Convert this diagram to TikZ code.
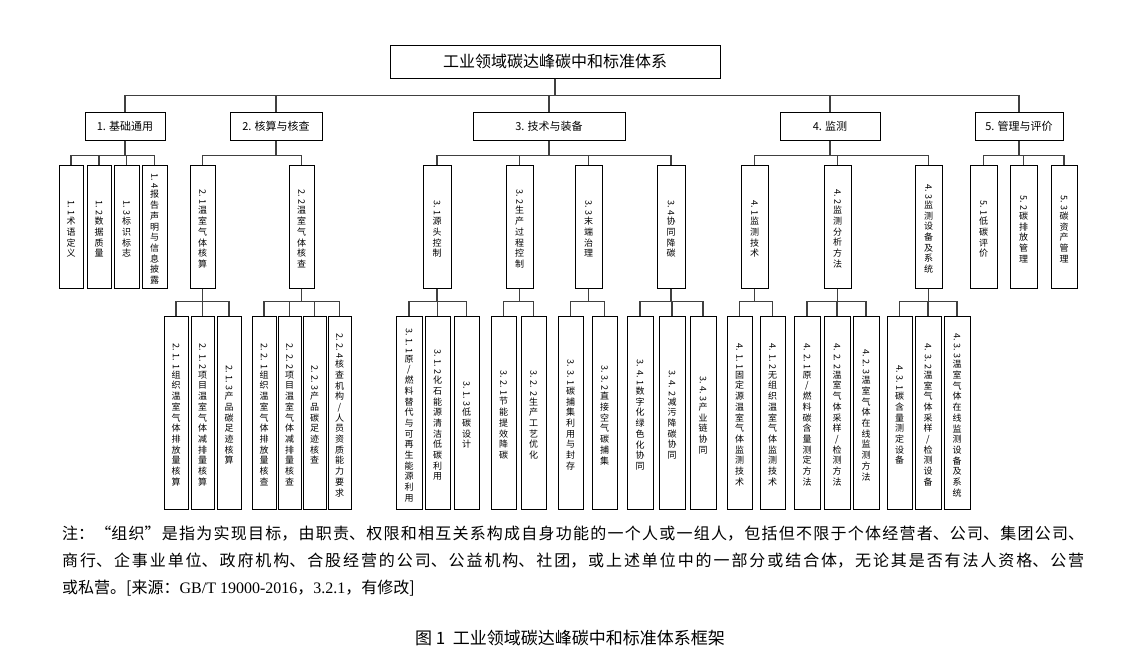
\documentclass[tikz,border=0pt]{standalone}
\usepackage{fontspec}
\usepackage{graphicx}
\setmainfont{Noto Sans CJK SC}
\newfontfamily\lat{Liberation Serif}
\XeTeXlinebreaklocale "zh"
\XeTeXlinebreakskip=0pt plus 1pt
\ExplSyntaxOn
\NewDocumentCommand\vtext{mm}{
  \seq_clear:N \l_tmpa_seq
  \tl_map_inline:nn {#2}{\seq_put_right:Nn \l_tmpa_seq {##1}}
  \fontsize{9}{10.6}\selectfont
  \begin{tabular}{@{}c@{}}\rotatebox{-90}{#1\,}\\ \seq_use:Nn \l_tmpa_seq {\\}\end{tabular}
}
\ExplSyntaxOff
\tikzset{
  hbox/.style={draw, line width=1pt, inner sep=0pt},
  vbox/.style={draw, line width=1pt, inner sep=0pt},
  conn/.style={draw=black!75, line width=1.3pt}
}
\newcommand\lbox[7]{\node[vbox, minimum width={(#3-#2)*1pt}, minimum height={(#5-#4)*1pt}] (#1) at ({(#2+#3)/2},{(#4+#5)/2}) {\vtext{#6}{#7}};}
\newcommand\tbox[6]{\node[hbox, minimum width={(#3-#2)*1pt}, minimum height={(#5-#4)*1pt}, font=\fontsize{11}{13}\selectfont] (#1) at ({(#2+#3)/2},{(#4+#5)/2}) {#6};}
\begin{document}
\begin{tikzpicture}[x=1pt,y=-1pt]
\useasboundingbox (0,0) rectangle (1138,664);
% title
\node[hbox, minimum width=330pt, minimum height=33pt, font=\fontsize{16}{18}\selectfont] (root) at (555,61.5) {工业领域碳达峰碳中和标准体系};
% level 1
\tbox{a}{85}{165}{112}{140}{1. 基础通用}
\tbox{b}{230}{322}{112}{140}{2. 核算与核查}
\tbox{c}{473}{625}{112}{140}{3. 技术与装备}
\tbox{d}{780}{880}{112}{140}{4. 监测}
\tbox{e}{975}{1063}{112}{140}{5. 管理与评价}
\foreach \n in {a,b,c,d,e}{\draw[conn] (root.south) -- ++(0,17) -| (\n.north);}
% level 2
\lbox{a1}{59}{83}{165}{288}{1. 1}{术语定义}
\lbox{a2}{87}{111}{165}{288}{1. 2}{数据质量}
\lbox{a3}{114}{139}{165}{288}{1. 3}{标识标志}
\lbox{a4}{142}{167}{165}{288}{1. 4}{报告声明与信息披露}
\lbox{b1}{190}{215}{165}{288}{2. 1}{温室气体核算}
\lbox{b2}{289}{314}{165}{288}{2. 2}{温室气体核查}
\lbox{c1}{423}{451}{165}{288}{3. 1}{源头控制}
\lbox{c2}{506}{533}{165}{288}{3. 2}{生产过程控制}
\lbox{c3}{575}{602}{165}{288}{3. 3}{末端治理}
\lbox{c4}{657}{685}{165}{288}{3. 4}{协同降碳}
\lbox{d1}{741}{768}{165}{288}{4. 1}{监测技术}
\lbox{d2}{824}{851}{165}{288}{4. 2}{监测分析方法}
\lbox{d3}{915}{942}{165}{288}{4. 3}{监测设备及系统}
\lbox{e1}{970}{997}{165}{288}{5. 1}{低碳评价}
\lbox{e2}{1010}{1037}{165}{288}{5. 2}{碳排放管理}
\lbox{e3}{1051}{1077}{165}{288}{5. 3}{碳资产管理}
\foreach \p/\cs in {a/{a1,a2,a3,a4},b/{b1,b2},c/{c1,c2,c3,c4},d/{d1,d2,d3},e/{e1,e2,e3}}{
  \foreach \ch in \cs {\draw[conn] (\p.south) -- ++(0,15) -| (\ch.north);}}
% level 3
\lbox{b11}{164}{188}{316}{509}{2. 1. 1}{组织温室气体排放量核算}
\lbox{b12}{191}{214}{316}{509}{2. 1. 2}{项目温室气体减排量核算}
\lbox{b13}{217}{241}{316}{509}{2. 1. 3}{产品碳足迹核算}
\lbox{b21}{252}{276}{316}{509}{2. 2. 1}{组织温室气体排放量核查}
\lbox{b22}{278}{301}{316}{509}{2. 2. 2}{项目温室气体减排量核查}
\lbox{b23}{303}{326}{316}{509}{2. 2. 3}{产品碳足迹核查}
\lbox{b24}{328}{351}{316}{509}{2. 2. 4}{核查机构/人员资质能力要求}
\lbox{c11}{396}{422}{316}{509}{3. 1. 1}{原/燃料替代与可再生能源利用}
\lbox{c12}{425}{450}{316}{509}{3. 1. 2}{化石能源清洁低碳利用}
\lbox{c13}{454}{479}{316}{509}{3. 1. 3}{低碳设计}
\lbox{c21}{491}{516}{316}{509}{3. 2. 1}{节能提效降碳}
\lbox{c22}{521}{546}{316}{509}{3. 2. 2}{生产工艺优化}
\lbox{c31}{558}{583}{316}{509}{3. 3. 1}{碳捕集利用与封存}
\lbox{c32}{592}{617}{316}{509}{3. 3. 2}{直接空气碳捕集}
\lbox{c41}{627}{653}{316}{509}{3. 4. 1}{数字化绿色化协同}
\lbox{c42}{659}{685}{316}{509}{3. 4. 2}{减污降碳协同}
\lbox{c43}{690}{716}{316}{509}{3. 4. 3}{产业链协同}
\lbox{d11}{727}{752}{316}{509}{4. 1. 1}{固定源温室气体监测技术}
\lbox{d12}{760}{785}{316}{509}{4. 1. 2}{无组织温室气体监测技术}
\lbox{d21}{794}{820}{316}{509}{4. 2. 1}{原/燃料碳含量测定方法}
\lbox{d22}{824}{850}{316}{509}{4. 2. 2}{温室气体采样/检测方法}
\lbox{d23}{853}{879}{316}{509}{4. 2. 3}{温室气体在线监测方法}
\lbox{d31}{887}{912}{316}{509}{4. 3. 1}{碳含量测定设备}
\lbox{d32}{915}{941}{316}{509}{4. 3. 2}{温室气体采样/检测设备}
\lbox{d33}{944}{970}{316}{509}{4. 3. 3}{温室气体在线监测设备及系统}
\foreach \p/\cs in {b1/{b11,b12,b13},b2/{b21,b22,b23,b24},c1/{c11,c12,c13},c2/{c21,c22},c3/{c31,c32},c4/{c41,c42,c43},d1/{d11,d12},d2/{d21,d22,d23},d3/{d31,d32,d33}}{
  \foreach \ch in \cs {\draw[conn] (\p.south) -- ++(0,13) -| (\ch.north);}}
% note
\node[anchor=north west, text width=1022pt, align=justify, inner sep=0pt, font=\fontsize{16}{27}\selectfont] (note) at (62,526) {注：“组织”是指为实现目标，由职责、权限和相互关系构成自身功能的一个人或一组人，包括但不限于个体经营者、公司、集团公司、\linebreak 商行、企事业单位、政府机构、合股经营的公司、公益机构、社团，或上述单位中的一部分或结合体，无论其是否有法人资格、公营\linebreak 或私营。[来源：{\lat GB/T 19000-2016}，{\lat 3.2.1}，有修改]};
\node[font=\fontsize{17}{20}\selectfont] (cap) at (570,638) {图 1\ \ 工业领域碳达峰碳中和标准体系框架};
\end{tikzpicture}
\end{document}
